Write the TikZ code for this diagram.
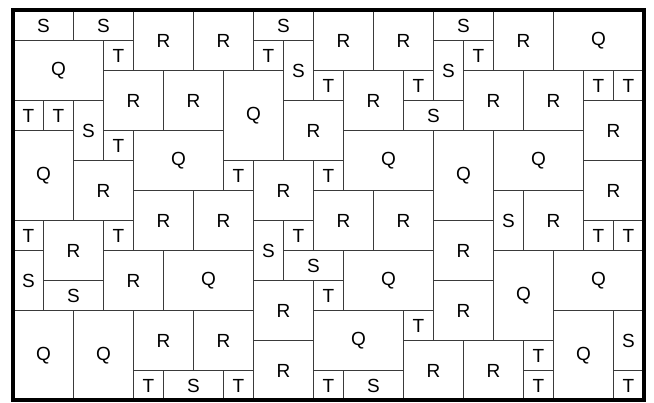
\documentclass[tikz,border=0pt]{standalone}
\usepackage{fontspec}
\setmainfont{Liberation Sans}
\usepackage{tikz}
\usetikzlibrary{positioning}
\usepackage{xcolor}
\definecolor{ink}{HTML}{3A3A3A}
\definecolor{frame}{HTML}{000000}
\tikzset{
  tile/.style={draw=ink,line width=1.1pt,inner sep=0pt,fill=white,font=\fontsize{19}{21}\selectfont,text=black},
  qwide/.style={tile,minimum width=90pt,minimum height=60pt},
  qtall/.style={tile,minimum width=60pt,minimum height=90pt},
  rtile/.style={tile,minimum width=60pt,minimum height=60pt},
  swide/.style={tile,minimum width=60pt,minimum height=30pt},
  stall/.style={tile,minimum width=30pt,minimum height=60pt},
  ttile/.style={tile,minimum width=30pt,minimum height=30pt},
  border/.style={draw=frame,line width=4pt},
}

\begin{document}
\begin{tikzpicture}[x=30pt,y=-30pt]
\useasboundingbox (-0.45,-0.35) rectangle (21.35,13.083);

% rows 0-1
\node[swide] (s1) at (1,0.5) {S};
\node[swide] (s2) at (3,0.5) {S};
\node[rtile] (r1) at (5,1) {R};
\node[rtile] (r2) at (7,1) {R};
\node[swide] (s3) at (9,0.5) {S};
\node[rtile] (r3) at (11,1) {R};
\node[rtile] (r4) at (13,1) {R};
\node[swide] (s4) at (15,0.5) {S};
\node[rtile] (r5) at (17,1) {R};
\node[qwide] (q1) at (19.5,1) {Q};
\node[qwide] (q2) at (1.5,2) {Q};
\node[ttile] (t1) at (3.5,1.5) {T};
\node[ttile] (t2) at (8.5,1.5) {T};
\node[stall] (s5) at (9.5,2) {S};
\node[stall] (s6) at (14.5,2) {S};
\node[ttile] (t3) at (15.5,1.5) {T};

% rows 2-3
\node[rtile] (r6) at (4,3) {R};
\node[rtile] (r7) at (6,3) {R};
\node[qtall] (q3) at (8,3.5) {Q};
\node[ttile] (t4) at (10.5,2.5) {T};
\node[rtile] (r8) at (12,3) {R};
\node[ttile] (t5) at (13.5,2.5) {T};
\node[rtile] (r9) at (16,3) {R};
\node[rtile] (r10) at (18,3) {R};
\node[ttile] (t6) at (19.5,2.5) {T};
\node[ttile] (t7) at (20.5,2.5) {T};
\node[ttile] (t8) at (0.5,3.5) {T};
\node[ttile] (t9) at (1.5,3.5) {T};
\node[stall] (s7) at (2.5,4) {S};
\node[rtile] (r11) at (10,4) {R};
\node[swide] (s8) at (14,3.5) {S};
\node[rtile] (r12) at (20,4) {R};

% rows 4-6
\node[qtall] (q4) at (1,5.5) {Q};
\node[ttile] (t10) at (3.5,4.5) {T};
\node[qwide] (q5) at (5.5,5) {Q};
\node[qwide] (q6) at (12.5,5) {Q};
\node[qtall] (q7) at (15,5.5) {Q};
\node[qwide] (q8) at (17.5,5) {Q};
\node[rtile] (r13) at (3,6) {R};
\node[ttile] (t11) at (7.5,5.5) {T};
\node[rtile] (r14) at (9,6) {R};
\node[ttile] (t12) at (10.5,5.5) {T};
\node[rtile] (r15) at (20,6) {R};
\node[rtile] (r16) at (5,7) {R};
\node[rtile] (r17) at (7,7) {R};
\node[rtile] (r18) at (11,7) {R};
\node[rtile] (r19) at (13,7) {R};
\node[stall] (s9) at (16.5,7) {S};
\node[rtile] (r20) at (18,7) {R};

% rows 7-9
\node[ttile] (t13) at (0.5,7.5) {T};
\node[rtile] (r21) at (2,8) {R};
\node[ttile] (t14) at (3.5,7.5) {T};
\node[stall] (s10) at (8.5,8) {S};
\node[ttile] (t15) at (9.5,7.5) {T};
\node[rtile] (r22) at (15,8) {R};
\node[ttile] (t16) at (19.5,7.5) {T};
\node[ttile] (t17) at (20.5,7.5) {T};
\node[stall] (s11) at (0.5,9) {S};
\node[rtile] (r23) at (4,9) {R};
\node[qwide] (q9) at (6.5,9) {Q};
\node[swide] (s12) at (10,8.5) {S};
\node[qwide] (q10) at (12.5,9) {Q};
\node[qtall] (q11) at (17,9.5) {Q};
\node[qwide] (q12) at (19.5,9) {Q};
\node[swide] (s13) at (2,9.5) {S};
\node[rtile] (r24) at (9,10) {R};
\node[ttile] (t18) at (10.5,9.5) {T};
\node[rtile] (r25) at (15,10) {R};

% rows 10-12
\node[qtall] (q13) at (1,11.5) {Q};
\node[qtall] (q14) at (3,11.5) {Q};
\node[rtile] (r26) at (5,11) {R};
\node[rtile] (r27) at (7,11) {R};
\node[qwide] (q15) at (11.5,11) {Q};
\node[ttile] (t19) at (13.5,10.5) {T};
\node[qtall] (q16) at (19,11.5) {Q};
\node[stall] (s14) at (20.5,11) {S};
\node[rtile] (r28) at (9,12) {R};
\node[rtile] (r29) at (14,12) {R};
\node[rtile] (r30) at (16,12) {R};
\node[ttile] (t20) at (17.5,11.5) {T};
\node[ttile] (t21) at (4.5,12.5) {T};
\node[swide] (s15) at (6,12.5) {S};
\node[ttile] (t22) at (7.5,12.5) {T};
\node[ttile] (t23) at (10.5,12.5) {T};
\node[swide] (s16) at (12,12.5) {S};
\node[ttile] (t24) at (17.5,12.5) {T};
\node[ttile] (t25) at (20.5,12.5) {T};

% outer frame
\draw[border] (0,0) rectangle (21,13);

\end{tikzpicture}
\end{document}
